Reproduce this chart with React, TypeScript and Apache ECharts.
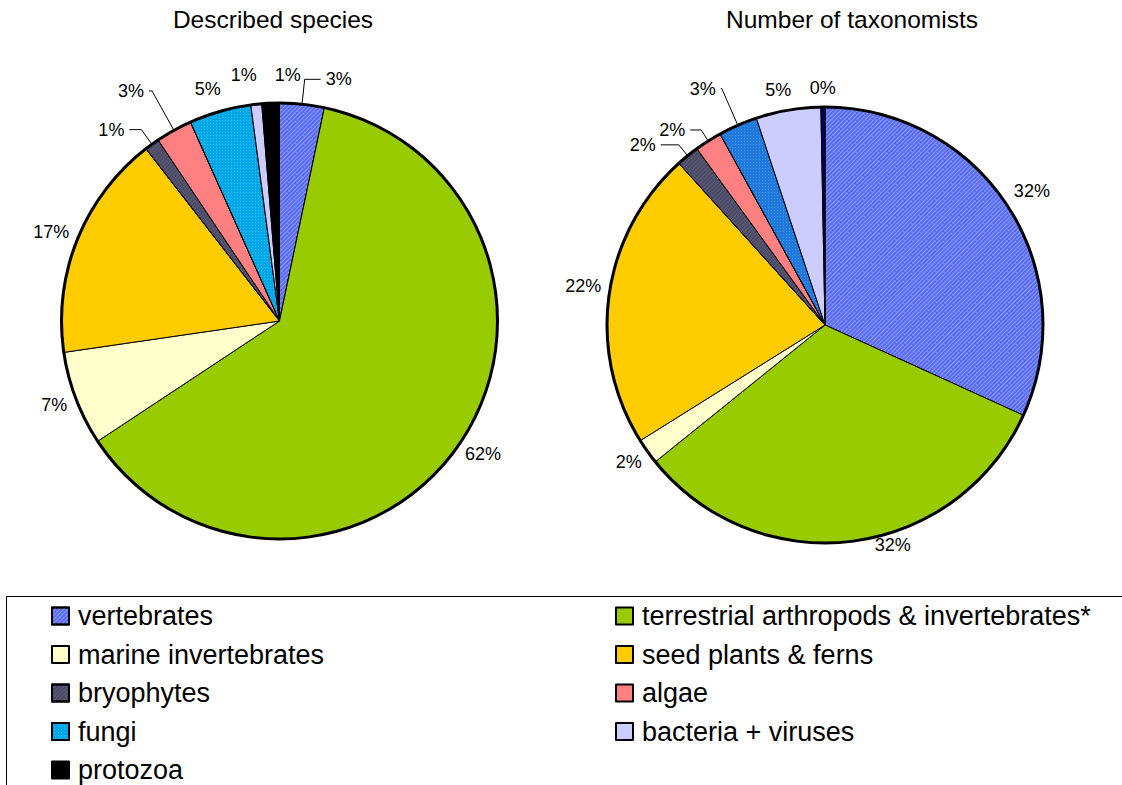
import React, { useEffect, useRef } from 'react';
import * as echarts from 'echarts';

// ---------- data ----------
const categories = [
  'vertebrates',
  'terrestrial arthropods & invertebrates*',
  'marine invertebrates',
  'seed plants & ferns',
  'bryophytes',
  'algae',
  'fungi',
  'bacteria + viruses',
  'protozoa',
];
const describedSpecies = [3.3, 62.4, 7.0, 16.8, 1.1, 2.7, 4.6, 0.8, 1.3];
const taxonomists = [31.8, 32.4, 1.9, 22.2, 1.7, 2.0, 2.9, 4.8, 0.3];
const titles = ['Described species', 'Number of taxonomists'];
const legendColumnA = ['vertebrates', 'marine invertebrates', 'bryophytes', 'fungi', 'protozoa'];
const legendColumnB = [
  'terrestrial arthropods & invertebrates*',
  'seed plants & ferns',
  'algae',
  'bacteria + viruses',
];

// ---------- style / layout ----------
const FONT = '"Liberation Sans", Arial, Helvetica, sans-serif';
const RADIUS = 218;
const LABEL_GAP = 10;

const leftColors = ['#5a6df0', '#99cc00', '#ffffcc', '#ffcc00', '#4a4a66', '#ff8080', '#00a8e8', '#ccccff', '#000000'];
const rightColors = ['#5a6df0', '#99cc00', '#ffffcc', '#ffcc00', '#4a4a66', '#ff8080', '#1f78dc', '#ccccff', '#000066'];

type PieCfg = {
  center: [number, number];
  titleX: number;
  colors: string[];
  lined: Record<number, [number, number]>;
  nudge: Record<number, [number, number]>;
};

const pieCfgs: PieCfg[] = [
  {
    center: [279.5, 321],
    titleX: 268,
    colors: leftColors,
    lined: { 0: [25, 16], 4: [18, 12], 5: [45, 3] },
    nudge: { 6: [-6, -4], 7: [-10, -10], 8: [18, -9] },
  },
  {
    center: [825, 325],
    titleX: 847,
    colors: rightColors,
    lined: { 4: [14, 18], 5: [13, 11], 6: [40, 1] },
    nudge: { 1: [37, -15], 0: [0, -6], 3: [2, -6], 7: [-6, -1] },
  },
];

const hatch = {
  symbol: 'rect',
  color: 'rgba(255,255,255,0.28)',
  dashArrayX: [1, 0],
  dashArrayY: [1, 2],
  rotation: -Math.PI / 4,
};
const darkHatch = {
  symbol: 'rect',
  color: 'rgba(255,255,255,0.1)',
  dashArrayX: [1, 0],
  dashArrayY: [1, 2],
  rotation: -Math.PI / 4,
};
const dots = {
  symbol: 'rect',
  symbolSize: 1,
  color: 'rgba(255,255,255,0.18)',
  dashArrayX: [1, 2],
  dashArrayY: [1, 2],
};

function makePie(idx: number, values: number[]) {
  const cfg = pieCfgs[idx];
  const total = values.reduce((a, b) => a + b, 0);
  return {
    type: 'pie',
    name: titles[idx],
    center: cfg.center,
    radius: [0, RADIUS],
    startAngle: 90,
    clockwise: true,
    avoidLabelOverlap: false,
    silent: true,
    emphasis: { disabled: true },
    z: 2,
    itemStyle: { borderColor: '#000', borderWidth: 1 },
    label: {
      show: true,
      position: 'outside',
      formatter: (p: any) => Math.round(p.percent) + '%',
      fontSize: 18,
      color: '#000',
      fontFamily: FONT,
    },
    labelLine: { show: false, smooth: false, lineStyle: { color: '#000', width: 1 } },
    labelLayout: (p: any) => {
      const i = p.dataIndex;
      if (cfg.lined[i]) return {};
      let cum = 0;
      for (let k = 0; k < i; k++) cum += values[k];
      const mid = ((cum + values[i] / 2) / total) * Math.PI * 2;
      const dx = Math.sin(mid);
      const dy = -Math.cos(mid);
      const w = p.labelRect.width;
      const h = p.labelRect.height;
      const n = cfg.nudge[i] || [0, 0];
      return {
        x: cfg.center[0] + dx * (RADIUS + LABEL_GAP) + (dx * w) / 2 + n[0],
        y: cfg.center[1] + dy * (RADIUS + LABEL_GAP) + (dy * h) / 2 + n[1],
        align: 'center',
        verticalAlign: 'middle',
      };
    },
    data: values.map((v, i) => {
      const item: any = {
        name: categories[i],
        value: v,
        itemStyle: { color: cfg.colors[i] } as any,
      };
      if (i === 0) item.itemStyle.decal = hatch;
      if (i === 4) item.itemStyle.decal = darkHatch;
      if (i === 6) item.itemStyle.decal = dots;
      const ln = cfg.lined[i];
      if (ln) item.labelLine = { show: true, length: ln[0], length2: ln[1] };
      return item;
    }),
  };
}

function makeOutline(idx: number) {
  const cfg = pieCfgs[idx];
  return {
    type: 'pie',
    center: cfg.center,
    radius: [RADIUS - 1.5, RADIUS + 1.5],
    silent: true,
    z: 3,
    emphasis: { disabled: true },
    label: { show: false },
    labelLine: { show: false },
    itemStyle: { color: '#000', borderWidth: 0 },
    data: [{ name: 'outline', value: 1 }],
  };
}

const legendBase = {
  orient: 'vertical',
  top: 597.5,
  height: 260,
  itemWidth: 17,
  itemHeight: 17,
  itemGap: 11.5,
  icon: 'rect',
  selectedMode: false,
  textStyle: {
    fontSize: 27,
    lineHeight: 27,
    color: '#000',
    fontFamily: FONT,
    padding: [0, 0, 0, 4],
  },
};

export default function App() {
  const ref = useRef<HTMLDivElement>(null);
  useEffect(() => {
    if (!ref.current) return;
    const chart = echarts.init(ref.current, undefined, { renderer: 'svg' });
    chart.setOption({
      animation: false,
      backgroundColor: '#fff',
      textStyle: { fontFamily: FONT },
      title: pieCfgs.map((c, i) => ({
        text: titles[i],
        left: c.titleX,
        top: 2,
        textAlign: 'center',
        textStyle: { fontSize: 24.5, fontWeight: 'normal', color: '#000', fontFamily: FONT },
      })),
      legend: [
        { ...legendBase, data: legendColumnA, left: 46 },
        { ...legendBase, data: legendColumnB, left: 610 },
      ],
      graphic: [
        {
          type: 'rect',
          silent: true,
          shape: { x: 6.5, y: 596.5, width: 1200, height: 300 },
          style: { fill: 'none', stroke: '#000', lineWidth: 1 },
        },
      ],
      series: [
        makePie(0, describedSpecies),
        makePie(1, taxonomists),
        makeOutline(0),
        makeOutline(1),
      ],
    });
    return () => chart.dispose();
  }, []);
  return (
    <div
      ref={ref}
      style={{ position: 'absolute', left: 0, top: 0, width: 1122, height: 785, background: '#fff' }}
    />
  );
}
